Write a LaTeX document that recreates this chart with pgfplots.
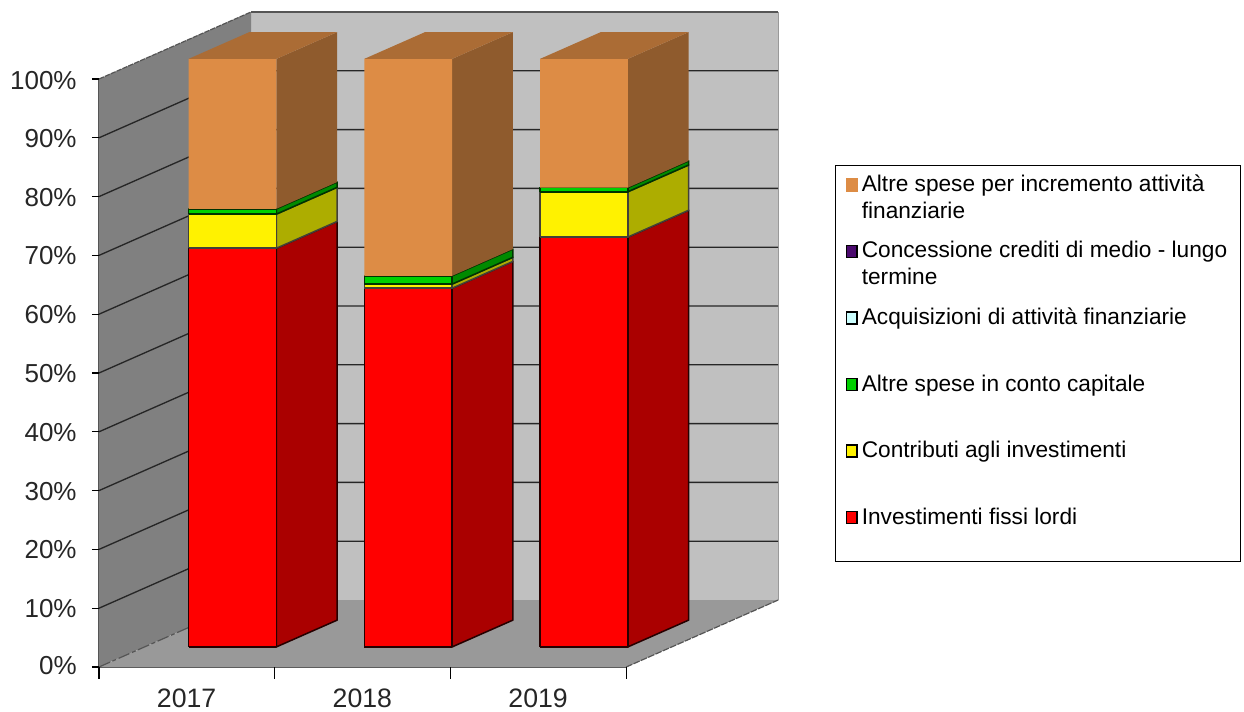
\documentclass[border=0pt]{standalone}
\usepackage{fontspec}
\setmainfont{Liberation Sans}
\usepackage{pgfplots}
\pgfplotsset{compat=1.18}

\definecolor{wallback}{HTML}{C0C0C0}
\definecolor{wallleft}{HTML}{808080}
\definecolor{wallfloor}{HTML}{999999}
\definecolor{edgegray}{HTML}{555555}
\definecolor{orfront}{HTML}{DD8C45}
\definecolor{orside}{HTML}{8F5B2D}
\definecolor{ortop}{HTML}{AB6C35}
\definecolor{rdside}{HTML}{AA0000}
\definecolor{ylside}{HTML}{ADAD00}
\definecolor{grfront}{HTML}{00D000}
\definecolor{grside}{HTML}{008A00}
\definecolor{acq}{HTML}{CCFFFF}
\definecolor{conc}{HTML}{4B0A6E}

% one stacked block: x0 x1 z0 z1 front side edge
\newcommand{\seg}[7]{%
  \addplot3[fill=#6,draw=#7,line width=1.15pt,line join=round,forget plot] coordinates {(#2,0.3,#3) (#2,0.7,#3) (#2,0.7,#4) (#2,0.3,#4) (#2,0.3,#3)};
  \addplot3[fill=#5,draw=#7,line width=1.15pt,line join=round,forget plot] coordinates {(#1,0.3,#3) (#2,0.3,#3) (#2,0.3,#4) (#1,0.3,#4) (#1,0.3,#3)};
}
% the orange top block has no outline
\newcommand{\segtop}[3]{%
  \addplot3[fill=orside,draw=none,forget plot] coordinates {(#2,0.3,#3) (#2,0.7,#3) (#2,0.7,100) (#2,0.3,100) (#2,0.3,#3)};
  \addplot3[fill=orfront,draw=none,forget plot] coordinates {(#1,0.3,#3) (#2,0.3,#3) (#2,0.3,100) (#1,0.3,100) (#1,0.3,#3)};
  \addplot3[fill=ortop,draw=none,forget plot] coordinates {(#1,0.3,100) (#2,0.3,100) (#2,0.7,100) (#1,0.7,100) (#1,0.3,100)};
}
\newcommand{\legtext}[2][49.9pt]{\parbox[t][#1][t]{276pt}{\raggedright #2}}

\begin{document}
\begin{tikzpicture}
\useasboundingbox (0,0) rectangle (933pt,533.25pt);
\begin{axis}[
  at={(74.25pt,33pt)}, anchor=origin,
  x={(131.8pt,0pt)}, y={(114pt,50.25pt)}, z={(0pt,4.41pt)},
  xmin=0, xmax=3, ymin=0, ymax=1, zmin=0, zmax=100,
  axis lines*=left,
  clip=false,
  axis line style={edgegray,line width=0.9pt},
  y axis line style={draw=none},
  xtick={0.5,1.5,2.5},
  xticklabels={2017,2018,2019},
  ytick=\empty,
  ztick={0,10,...,100},
  zticklabel={\pgfmathprintnumber{\tick}\%},
  /pgf/number format/assume math mode=true,
  tick align=outside,
  major tick length=0pt,
  tick label style={color=black!85},
  x tick label style={font=\fontsize{20}{24}\selectfont,xshift=6.75pt,yshift=-12.75pt},
  z tick label style={font=\fontsize{19.5}{24}\selectfont,xshift=-13.25pt,yshift=4.5pt},
  legend image code/.code={\path[draw=none,fill=none] (0pt,0pt) rectangle (8pt,0pt); \draw[#1,overlay] (0pt,13pt) rectangle (8pt,22pt);},
  legend style={
    at={(axis cs:4.189,0,85.37)}, anchor=north west,
    draw=black, line width=1pt,
    font=\fontsize{17}{20}\selectfont,
    inner xsep=8pt, inner ysep=7pt,
    nodes={inner sep=0pt,text depth=},
    cells={anchor=base west},
    row sep=0pt,
    column sep=3.5pt,
  },
  legend cell align=left,
]
% walls and floor
\addplot3[fill=wallback,draw=none,forget plot] coordinates {(0,1,0) (3,1,0) (3,1,100) (0,1,100) (0,1,0)};
\addplot3[fill=wallleft,draw=none,forget plot] coordinates {(0,0,0) (0,1,0) (0,1,100) (0,0,100) (0,0,0)};
\addplot3[fill=wallfloor,draw=none,forget plot] coordinates {(0,0,0) (3,0,0) (3,1,0) (0,1,0) (0,0,0)};
\addplot3[draw=wallfloor,line width=1pt,forget plot] coordinates {(3,1,0) (3,1,100)};
% gridlines
\pgfplotsinvokeforeach{10,20,...,90}{
  \addplot3[draw=black!85,line width=1pt,forget plot] coordinates {(0,0,#1) (0,1,#1) (3,1,#1)};
}
\addplot3[draw=edgegray,line width=0.9pt,dash pattern=on 4pt off 0.8pt,forget plot] coordinates {(0,0,100) (0,1,100)};
\addplot3[draw=edgegray,line width=0.9pt,forget plot] coordinates {(0,1,100) (3,1,100)};
\addplot3[draw=edgegray,line width=0.9pt,dash pattern=on 9pt off 2pt on 3pt off 2pt,forget plot] coordinates {(0,0,0) (0,1,0)};
\addplot3[draw=edgegray,line width=0.9pt,dash pattern=on 5pt off 1pt,forget plot] coordinates {(3,0,0) (3,1,0)};
% tick marks, straight as in the reference
\pgfplotsinvokeforeach{0,10,...,100}{
  \addplot3[draw=black,line width=0.8pt,forget plot] coordinates {(-0.04,0,#1) (0,0,#1)};
}
\pgfplotsinvokeforeach{0,1,2,3}{
  \addplot3[draw=black,line width=0.8pt,forget plot] coordinates {(#1,0,0) (#1,0,-2)};
}
% 2017
\seg{0.25}{0.75}{0}{67.8}{red}{rdside}{black!85!red}
\seg{0.25}{0.75}{67.8}{73.6}{yellow}{ylside}{black!85!yellow}
\seg{0.25}{0.75}{73.6}{74.5}{grfront}{grside}{black!80!green}
\segtop{0.25}{0.75}{74.5}
% 2018
\seg{1.25}{1.75}{0}{61.0}{red}{rdside}{black!85!red}
\seg{1.25}{1.75}{61.0}{61.7}{yellow}{ylside}{black!85!yellow}
\seg{1.25}{1.75}{61.7}{63.1}{grfront}{grside}{black!80!green}
\segtop{1.25}{1.75}{63.1}
% 2019
\seg{2.25}{2.75}{0}{69.7}{red}{rdside}{black!85!red}
\seg{2.25}{2.75}{69.7}{77.4}{yellow}{ylside}{black!85!yellow}
\seg{2.25}{2.75}{77.4}{78.1}{grfront}{grside}{black!80!green}
\segtop{2.25}{2.75}{78.1}
% legend
\addlegendimage{fill=orfront,draw=orfront}
\addlegendentry{\legtext{Altre spese per incremento attività\\finanziarie}}
\addlegendimage{fill=conc,draw=black}
\addlegendentry{\legtext{Concessione crediti di medio - lungo\\termine}}
\addlegendimage{fill=acq,draw=black}
\addlegendentry{\legtext{Acquisizioni di attività finanziarie}}
\addlegendimage{fill=grfront,draw=black}
\addlegendentry{\legtext{Altre spese in conto capitale}}
\addlegendimage{fill=yellow,draw=black}
\addlegendentry{\legtext{Contributi agli investimenti}}
\addlegendimage{fill=red,draw=black,yshift=-8.2pt}
\addlegendentry{\legtext[33.5pt]{Investimenti fissi lordi}}
\end{axis}
\end{tikzpicture}
\end{document}
